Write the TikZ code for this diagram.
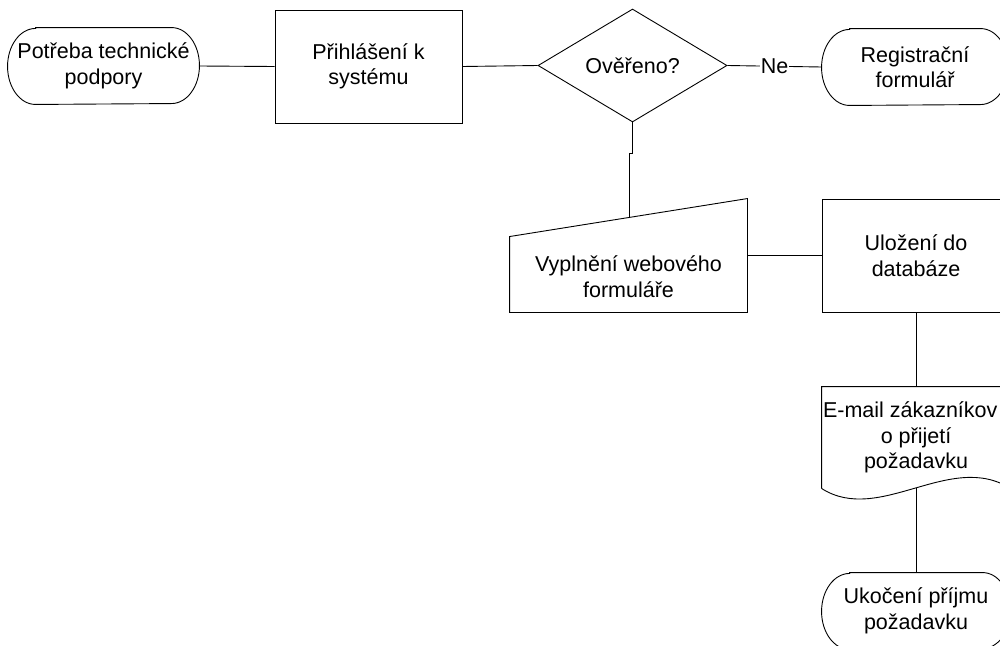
\documentclass[tikz,border=0pt]{standalone}
\usepackage{fontspec}
\setmainfont{Liberation Sans}
\usetikzlibrary{shapes.geometric,calc}

% outline of a terminator: straight top and bottom, elliptic ends
\newcommand\termoutline[1]{%
  \draw ([xshift=28pt]#1.north west) -- ([xshift=-28pt]#1.north east)
    arc[start angle=90, end angle=-90, x radius=28pt, y radius=38pt]
    -- ([xshift=28pt]#1.south west)
    arc[start angle=270, end angle=90, x radius=28pt, y radius=38pt] -- cycle;}

\begin{document}
\begin{tikzpicture}[x=1pt, y=-1pt, line width=0.9pt,
  base/.style={inner sep=0pt, align=center, font=\fontsize{21.5pt}{25.5pt}\selectfont},
  term/.style={base, minimum width=#1, minimum height=76pt},
  term/.default=188pt,
  proc/.style={base, draw, minimum width=#1, minimum height=113pt},
  proc/.default=188pt,
  decision/.style={base, draw, diamond, aspect=1.67, minimum width=189pt, minimum height=113pt},
  iobox/.style={base, minimum width=237pt, minimum height=113pt},
  docbox/.style={base, minimum width=188pt, minimum height=101pt},
  edgelabel/.style={base, fill=white, inner sep=0.5pt}
]
\useasboundingbox (0,0) rectangle (1000,645);
\clip (0,0) rectangle (1000,645);

% top row
\node[term=191pt] (t1) at (103.5,66) {Potřeba technické\\podpory};
\termoutline{t1}
\node[proc=187pt] (r1) at (368.5,66.5) {Přihlášení k\\systému};
\node[decision] (d1) at (632.5,65.5) {Ověřeno?};
\node[term=186pt] (t2) at (915,67) {Registrační\\formulář};
\termoutline{t2}

% manual input
\node[iobox, label={[base, yshift=-21pt]center:{Vyplnění webového\\formuláře}}] (m1) at (628.5,255.5) {};
\draw ([yshift=-38pt]m1.north west) -- (m1.north east) -- (m1.south east) -- (m1.south west) -- cycle;
\coordinate (m1in) at ($([yshift=-38pt]m1.north west)!0.502!(m1.north east)$);

\node[proc] (r2) at (916,255.5) {Uložení do\\databáze};

% document
\node[docbox] (doc) at (916,437.5) {\makebox[186pt][l]{E-mail zákazníkov}\\o přijetí\\požadavku};
\draw (doc.south west) -- (doc.north west) -- (doc.north east) -- (doc.south east)
  .. controls ($(doc.south east)+(-60,-38)$) and ($(doc.south west)+(58,37)$) .. (doc.south west);

\node[term] (t3) at (916,611) {Ukočení příjmu\\požadavku};
\termoutline{t3}

% connectors
\draw (t1.east) -- (r1.west);
\draw (r1.east) -- (d1.west);
\draw (d1.east) -- node[edgelabel] {Ne} (t2.west);
\draw (d1.south) -- ++(0,31) -| (m1in);
\draw (m1.east) -- (r2.west);
\draw (r2.south) -- (doc.north);
\draw (doc.south) -- (t3.north);
\end{tikzpicture}
\end{document}
